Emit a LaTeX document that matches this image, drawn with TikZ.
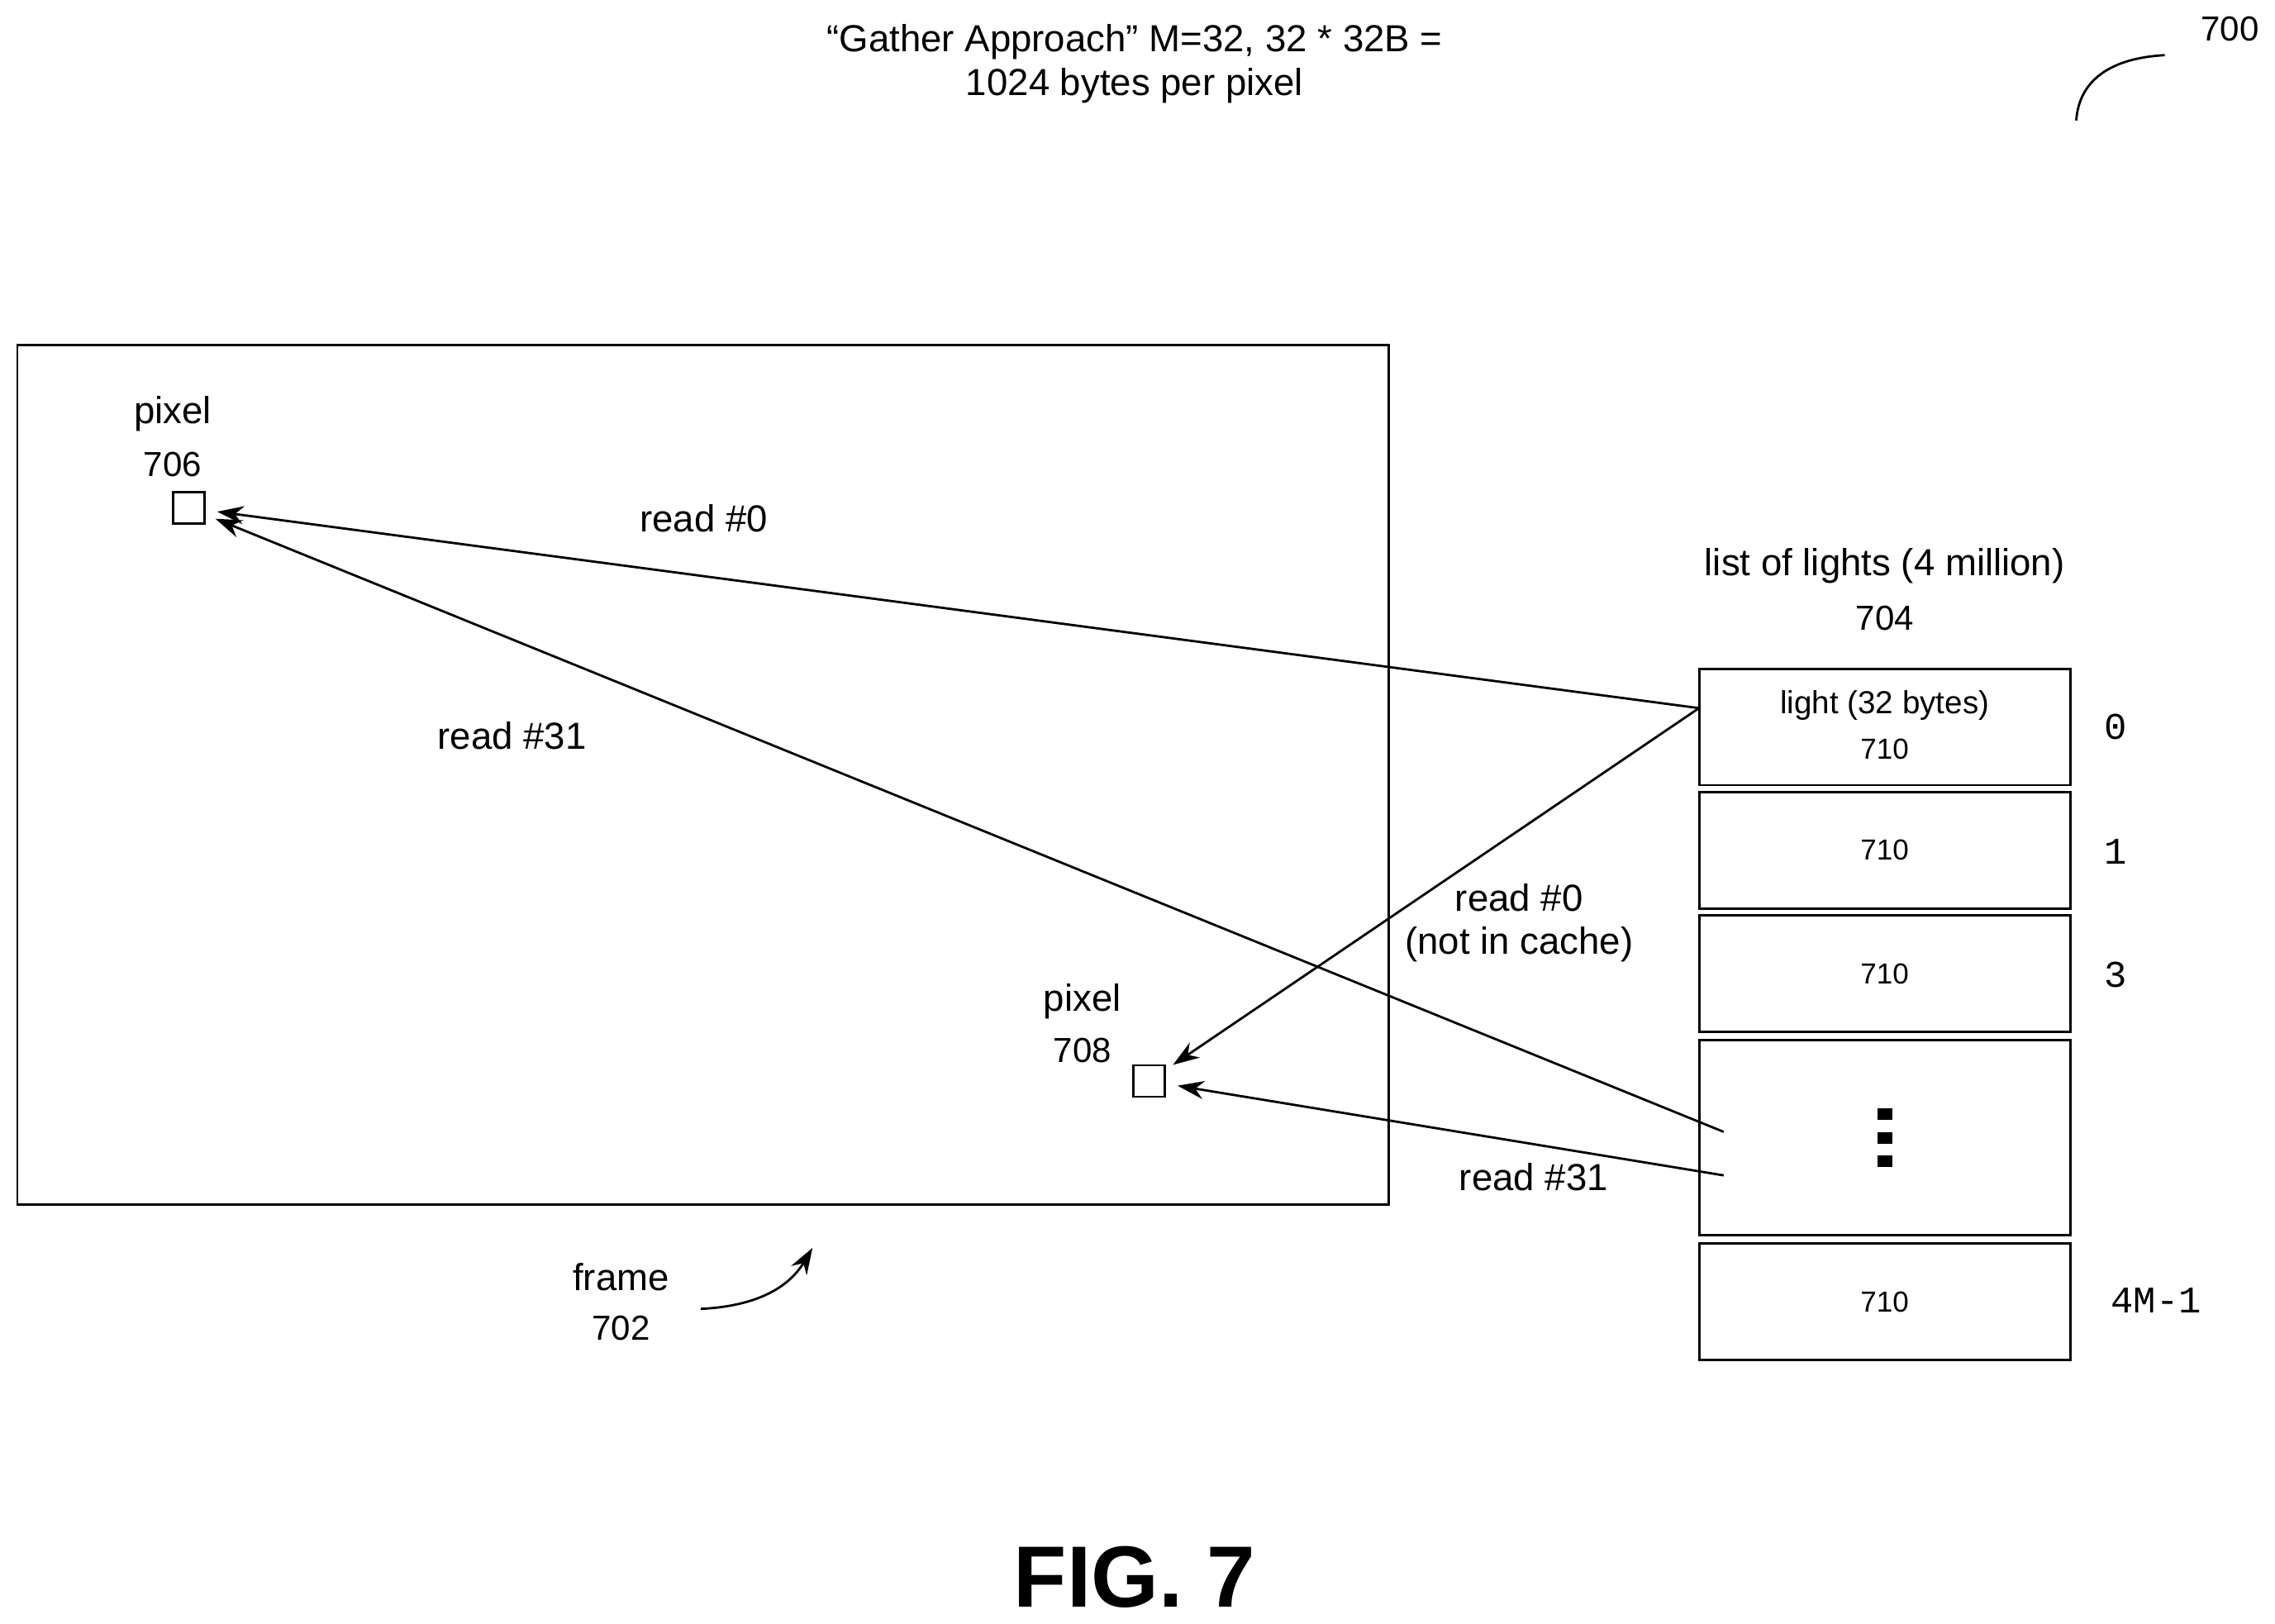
\documentclass[tikz,border=0pt]{standalone}
\usepackage{fontspec}
\setmainfont{Liberation Sans}
\setmonofont{Liberation Mono}
\usetikzlibrary{arrows.meta,positioning}

\begin{document}
\begin{tikzpicture}[x=0.0176cm,y=-0.0176cm]
\tikzstyle{lbl} = [font=\fontsize{13}{15}\selectfont, align=center, inner sep=1pt]
\tikzstyle{num} = [font=\fontsize{10}{12}\selectfont, inner sep=1pt]
\tikzstyle{idx} = [font=\ttfamily\fontsize{13}{15}\selectfont, inner sep=1pt]
\tikzstyle{pix} = [rectangle, draw, thick, minimum size=0.38cm, inner sep=0pt]
\tikzstyle{slot} = [rectangle, draw, thick, minimum width=4.5cm, inner sep=0pt]
\tikzstyle{line} = [draw, thick, -{Stealth[length=3.2mm,width=2.2mm]}, shorten >=0.35cm];
\useasboundingbox (0,0) rectangle (1568,1119);
% title
\node [lbl] (title) at (782,44) {“Gather Approach” M=32, 32 * 32B =\\1024 bytes per pixel};
\node [num, font=\fontsize{12}{14}\selectfont] (fig) at (1537,20) {700};
\draw [thick] (1431,83) .. controls (1433,55) and (1455,40) .. (1492,38);
% frame
\draw [thick] (12,238) rectangle (957,830);
\node [lbl] (frame) at (428,880) {frame};
\node [num, font=\fontsize{12}{14}\selectfont] (frameno) at (428,915) {702};
\draw [line, shorten >=0pt] (483,902) .. controls (525,900) and (545,885) .. (560,860);
% pixels
\node [pix] (p706) at (130,350) {};
\node [lbl] (p706l) at (119,285) {pixel};
\node [num, font=\fontsize{12}{14}\selectfont] at (119,320) {706};
\node [pix] (p708) at (792,745) {};
\node [lbl] (p708l) at (746,690) {pixel};
\node [num, font=\fontsize{12}{14}\selectfont] at (746,724) {708};
% list of lights
\node [lbl] (list) at (1299,390) {list of lights (4 million)};
\node [num, font=\fontsize{12}{14}\selectfont] at (1299,426) {704};
\node [slot, minimum height=1.41cm] (l0) at (1299,501) {};
\node [slot, minimum height=1.41cm] (l1) at (1299,586) {};
\node [slot, minimum height=1.41cm] (l3) at (1299,671) {};
\node [slot, minimum height=2.36cm] (ldots) at (1299,784) {};
\node [slot, minimum height=1.41cm] (llast) at (1299,897) {};
\node [lbl, font=\fontsize{11}{13}\selectfont] at (1299,486) {light (32 bytes)};
\node [num] at (1299,516) {710};
\node [num] at (l1) {710};
\node [num] at (l3) {710};
\node [num] at (llast) {710};
\foreach \y in {768,784,800}
  \fill (1294,\y-4) rectangle (1304,\y+4);
\node [idx] at (1458,501) {0};
\node [idx] at (1458,587) {1};
\node [idx] at (1458,672) {3};
\node [idx] at (1486,896) {4M-1};
% reads
\coordinate (src0) at (1171,488);
\coordinate (src31a) at (1188,780);
\coordinate (src31b) at (1188,810);
\path [line] (src0) -- (p706.center);
\path [line] (src0) -- (p708.center);
\path [line] (src31a) -- (p706.center);
\path [line] (src31b) -- (p708.center);
\node [lbl] at (485,357) {read \#0};
\node [lbl] at (353,507) {read \#31};
\node [lbl] at (1047,636) {read \#0\\(not in cache)};
\node [lbl] at (1057,811) {read \#31};
\node [font=\bfseries\fontsize{30}{30}\selectfont] at (782,1087) {FIG. 7};
\end{tikzpicture}
\end{document}
